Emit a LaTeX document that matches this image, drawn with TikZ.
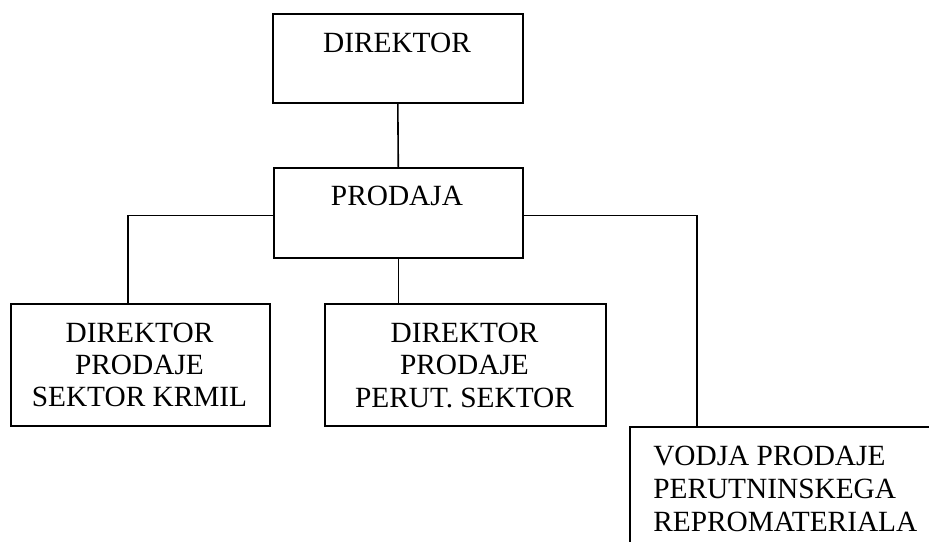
\documentclass[tikz,border=0pt]{standalone}
\usepackage{fontspec}
\setmainfont{Liberation Serif}
\usetikzlibrary{calc}
\begin{document}
\begin{tikzpicture}[x=0.75pt,y=-0.75pt,
  box/.style={draw=black,line width=1.2pt,rectangle,anchor=north west,inner sep=0pt},
  conn/.style={draw=black,line width=1.2pt},
  txt/.style={font=\fontsize{22}{24.75}\selectfont,inner sep=0pt,anchor=base}]
\useasboundingbox (0,0) rectangle (929,542);
\clip (0,0) rectangle (929,542);
% boxes
\node[box,minimum width=250*0.75pt,minimum height=89*0.75pt] (dir) at (272,13) {};
\node[box,minimum width=249*0.75pt,minimum height=90*0.75pt] (prod) at (273,167) {};
\node[box,minimum width=259*0.75pt,minimum height=122*0.75pt] (k) at (10,303) {};
\node[box,minimum width=281*0.75pt,minimum height=122*0.75pt] (p) at (324,303) {};
\node[box,minimum width=400*0.75pt,minimum height=200*0.75pt] (v) at (629,426) {};
% texts
\node[txt] (t1) at (397,53) {DIREKTOR};
\node[txt] (t2) at (397,205) {PRODAJA};
\node[txt] (k1) at (139.5,342) {DIREKTOR};
\node[txt] (k2) at (139.5,374) {PRODAJE};
\node[txt] (k3) at (139.5,406) {SEKTOR KRMIL};
\node[txt] (p1) at (464.5,342) {DIREKTOR};
\node[txt] (p2) at (464.5,374) {PRODAJE};
\node[txt] (p3) at (464.5,407) {PERUT. SEKTOR};
\node[txt,anchor=base west] (v1) at (653,465) {VODJA PRODAJE};
\node[txt,anchor=base west] (v2) at (653,498) {PERUTNINSKEGA};
\node[txt,anchor=base west] (v3) at (653,531) {REPROMATERIALA};
% connectors
\coordinate (pw) at ($(prod.north west)!0.53!(prod.south west)$);
\coordinate (pe) at ($(prod.north east)!0.53!(prod.south east)$);
\coordinate (kc) at ($(k.north west)+(118,0)$);
\coordinate (vc) at ($(v.north west)+(68,0)$);
\draw[conn] (dir.south) -- (prod.north);
\draw[conn] (pw) -| (kc);
\draw[conn] (prod.south) -- (prod.south |- p.north);
\draw[conn] (pe) -| (vc);
\end{tikzpicture}
\end{document}
